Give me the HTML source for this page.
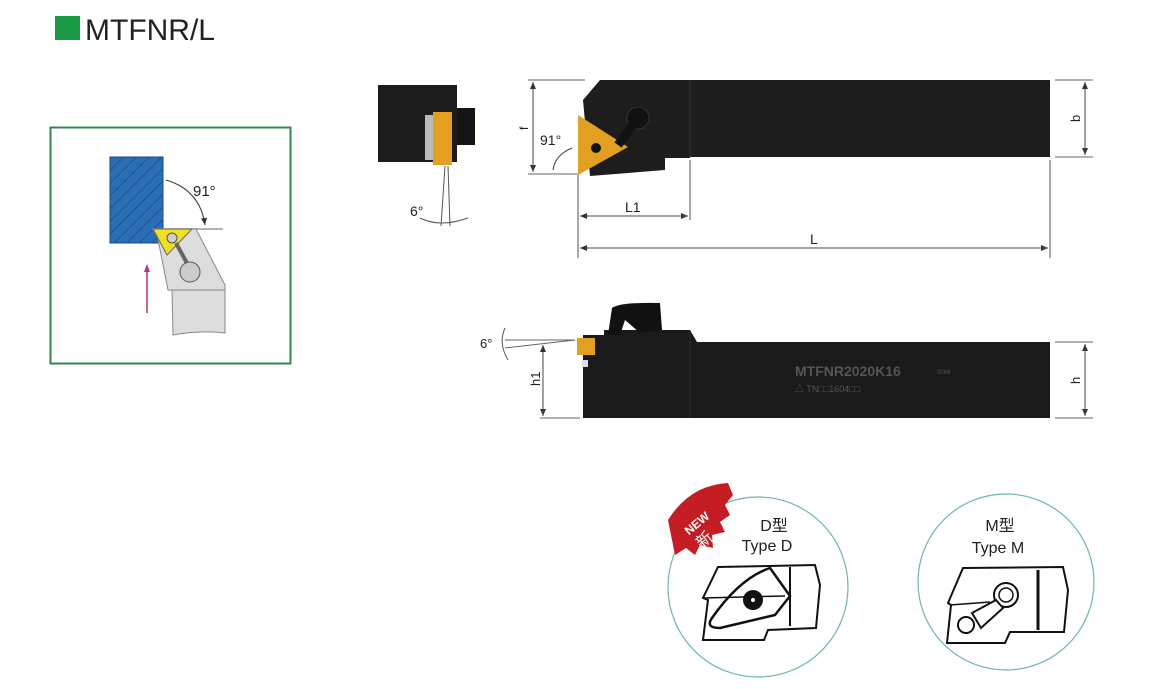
<!DOCTYPE html>
<html><head><meta charset="utf-8"><style>
html,body{margin:0;padding:0;background:#fff;}
svg{display:block;font-family:"Liberation Sans","Noto Sans CJK SC",sans-serif;}
</style></head><body>
<svg width="1164" height="689" viewBox="0 0 1164 689" xmlns="http://www.w3.org/2000/svg">
<defs>
<pattern id="hatch" width="9" height="9" patternUnits="userSpaceOnUse" patternTransform="rotate(45)">
<rect width="9" height="9" fill="#2a6fb5"/><line x1="0" y1="0" x2="0" y2="9" stroke="#1b4a82" stroke-width="1.5"/></pattern>
<marker id="ar" markerWidth="8" markerHeight="8" refX="7" refY="4" orient="auto"><path d="M0,1 L7,4 L0,7z" fill="#333"/></marker>
</defs>
<rect x="55" y="16" width="25" height="24" fill="#1a9a45"/>
<text x="85" y="40" font-size="30" fill="#222">MTFNR/L</text>

<rect x="50.5" y="127.5" width="240" height="236" fill="#fff" stroke="#2f8a4a" stroke-width="2"/>
<rect x="110" y="157" width="53" height="86" fill="url(#hatch)" stroke="#1b4a82"/>
<line x1="152" y1="229" x2="223" y2="229" stroke="#999" stroke-width="1.5"/>
<path d="M156,229 L196,229 L225,285 L225,292 L168,290 Z" fill="#ddd" stroke="#888"/>
<path d="M172,290 L225,290 L225,333 Q200,330 173,335 Z" fill="#ddd" stroke="#888"/>
<path d="M153,229 L192,229 L167,255 Z" fill="#f0e020" stroke="#666"/>
<circle cx="172" cy="238" r="5" fill="#ccc" stroke="#555"/>
<line x1="176" y1="243" x2="188" y2="265" stroke="#666" stroke-width="4"/>
<circle cx="190" cy="272" r="10" fill="#ccc" stroke="#555"/>
<line x1="147" y1="313" x2="147" y2="270" stroke="#c0307a" stroke-width="1.5"/>
<path d="M144,272 L147,264 L150,272z" fill="#c0307a"/>
<path d="M166,180 Q200,190 205,225" fill="none" stroke="#333" marker-end="url(#ar)"/>
<text x="193" y="196" font-size="15" fill="#222">91°</text>

<rect x="378" y="85" width="79" height="77" fill="#1c1c1c"/>
<rect x="457" y="108" width="18" height="37" fill="#151515"/>
<rect x="425" y="115" width="10" height="45" fill="#bbb"/>
<rect x="433" y="112" width="19" height="53" fill="#e3a020"/>
<line x1="445" y1="166" x2="441" y2="226" stroke="#555"/>
<line x1="448" y1="166" x2="450" y2="226" stroke="#555"/>
<path d="M420,218 Q440,228 468,218" fill="none" stroke="#555"/>
<text x="410" y="216" font-size="14" fill="#222">6°</text>

<path d="M600,80 L1050,80 L1050,157 L690,157 L690,158 L665,158 L665,170 L590,176 L583,100 Z" fill="#1d1d1d"/>
<line x1="690" y1="80" x2="690" y2="157" stroke="#333"/>
<path d="M578,115 L578,175 L628,147 Z" fill="#e3a020"/>
<circle cx="638" cy="118" r="11" fill="#111" stroke="#333"/>
<line x1="618" y1="145" x2="638" y2="118" stroke="#111" stroke-width="9"/>
<circle cx="596" cy="148" r="5" fill="#111"/>
<line x1="528" y1="80" x2="585" y2="80" stroke="#666"/>
<line x1="528" y1="174" x2="578" y2="174" stroke="#666"/>
<line x1="533" y1="82" x2="533" y2="172" stroke="#444" marker-end="url(#ar)"/>
<line x1="533" y1="172" x2="533" y2="82" stroke="#444" marker-end="url(#ar)"/>
<text x="520" y="130" font-size="12" fill="#222" transform="rotate(-90 524 126)">f</text>
<text x="540" y="145" font-size="14" fill="#222">91°</text>
<path d="M572,148 Q555,155 553,170" fill="none" stroke="#444"/>
<line x1="578" y1="175" x2="578" y2="258" stroke="#555"/>
<line x1="690" y1="160" x2="690" y2="220" stroke="#555"/>
<line x1="1050" y1="160" x2="1050" y2="258" stroke="#555"/>
<line x1="580" y1="216" x2="688" y2="216" stroke="#444" marker-end="url(#ar)"/>
<line x1="688" y1="216" x2="580" y2="216" stroke="#444" marker-end="url(#ar)"/>
<text x="625" y="212" font-size="14" fill="#222">L1</text>
<line x1="580" y1="248" x2="1048" y2="248" stroke="#444" marker-end="url(#ar)"/>
<line x1="1048" y1="248" x2="580" y2="248" stroke="#444" marker-end="url(#ar)"/>
<text x="810" y="244" font-size="14" fill="#222">L</text>
<line x1="1055" y1="80" x2="1093" y2="80" stroke="#666"/>
<line x1="1055" y1="157" x2="1093" y2="157" stroke="#666"/>
<line x1="1085" y1="82" x2="1085" y2="155" stroke="#444" marker-end="url(#ar)"/>
<line x1="1085" y1="155" x2="1085" y2="82" stroke="#444" marker-end="url(#ar)"/>
<text x="1072" y="122" font-size="13" fill="#222" transform="rotate(-90 1076 118)">b</text>

<path d="M583,335 L604,335 L604,330 L690,330 L697,342 L1050,342 L1050,418 L583,418 Z" fill="#1a1a1a"/>
<path d="M608,335 L612,308 Q620,302 660,303 L662,330 L640,333 L625,320 L620,335 Z" fill="#111"/>
<line x1="690" y1="332" x2="690" y2="418" stroke="#333"/>
<rect x="577" y="338" width="18" height="17" fill="#e3a020"/>
<rect x="582" y="360" width="6" height="7" fill="#ddd"/>
<text x="795" y="376" font-size="14" font-weight="bold" fill="#555">MTFNR2020K16</text>
<text x="937" y="374" font-size="6" fill="#555">0068</text>
<text x="795" y="392" font-size="9" fill="#555">△ TN□□1604□□</text>
<line x1="505" y1="340" x2="575" y2="340" stroke="#666"/>
<line x1="505" y1="348" x2="575" y2="340" stroke="#666"/>
<path d="M505,328 Q498,343 508,360" fill="none" stroke="#555"/>
<text x="480" y="348" font-size="13" fill="#222">6°</text>
<line x1="543" y1="345" x2="543" y2="416" stroke="#444" marker-end="url(#ar)"/>
<line x1="543" y1="416" x2="543" y2="345" stroke="#444" marker-end="url(#ar)"/>
<line x1="540" y1="418" x2="580" y2="418" stroke="#666"/>
<text x="530" y="388" font-size="13" fill="#222" transform="rotate(-90 534 382)">h1</text>
<line x1="1055" y1="342" x2="1093" y2="342" stroke="#666"/>
<line x1="1055" y1="418" x2="1093" y2="418" stroke="#666"/>
<line x1="1085" y1="344" x2="1085" y2="416" stroke="#444" marker-end="url(#ar)"/>
<line x1="1085" y1="416" x2="1085" y2="344" stroke="#444" marker-end="url(#ar)"/>
<text x="1072" y="384" font-size="13" fill="#222" transform="rotate(-90 1076 380)">h</text>

<circle cx="758" cy="587" r="90" fill="#fff" stroke="#6fb9a0" stroke-width="1.2"/>
<circle cx="1006" cy="582" r="88" fill="#fff" stroke="#6fb9a0" stroke-width="1.2"/>
<path d="M668,520 Q690,485 728,483 L733,495 L725,505 L730,515 L720,522 L725,532 L712,535 L713,548 L700,545 L695,555 L686,548 L675,555 Z" fill="#c41e24"/>
<text x="676" y="530" font-size="12" font-weight="bold" fill="#fff" transform="rotate(-40 690 515)">NEW</text>
<text x="693" y="545" font-size="16" fill="#fff" transform="rotate(-40 703 535)">新</text>
<text x="774" y="531" font-size="16" fill="#222" text-anchor="middle">D型</text>
<text x="767" y="551" font-size="16" fill="#222" text-anchor="middle">Type D</text>
<text x="1000" y="531" font-size="16" fill="#222" text-anchor="middle">M型</text>
<text x="998" y="553" font-size="16" fill="#222" text-anchor="middle">Type M</text>
<path d="M718,567 L815,565 L820,585 L816,628 L768,630 L764,640 L703,640 L708,600 L703,598 Z" fill="none" stroke="#111" stroke-width="2"/>
<line x1="703" y1="598" x2="785" y2="596" stroke="#111" stroke-width="1.5"/>
<path d="M712,618 Q740,578 770,568 L790,596 L775,615 L720,628 Q705,628 712,618Z" fill="none" stroke="#111" stroke-width="2.5"/>
<circle cx="753" cy="600" r="10" fill="#111"/>
<circle cx="753" cy="600" r="2" fill="#fff"/>
<line x1="790" y1="567" x2="790" y2="626" stroke="#111" stroke-width="2"/>
<path d="M963,568 L1063,567 L1068,590 L1064,632 L1010,632 L1005,643 L947,643 L951,605 L948,603 Z" fill="none" stroke="#111" stroke-width="2"/>
<line x1="950" y1="605" x2="990" y2="602" stroke="#111" stroke-width="1.5"/>
<line x1="1038" y1="570" x2="1038" y2="630" stroke="#111" stroke-width="3"/>
<circle cx="1006" cy="595" r="12" fill="#fff" stroke="#111" stroke-width="2"/>
<circle cx="1006" cy="595" r="7" fill="#fff" stroke="#111" stroke-width="1.5"/>
<path d="M972,613 L996,600 L1003,608 L981,628 Z" fill="#fff" stroke="#111" stroke-width="2"/>
<circle cx="966" cy="625" r="8" fill="#fff" stroke="#111" stroke-width="2"/>
</svg>
</body></html>
